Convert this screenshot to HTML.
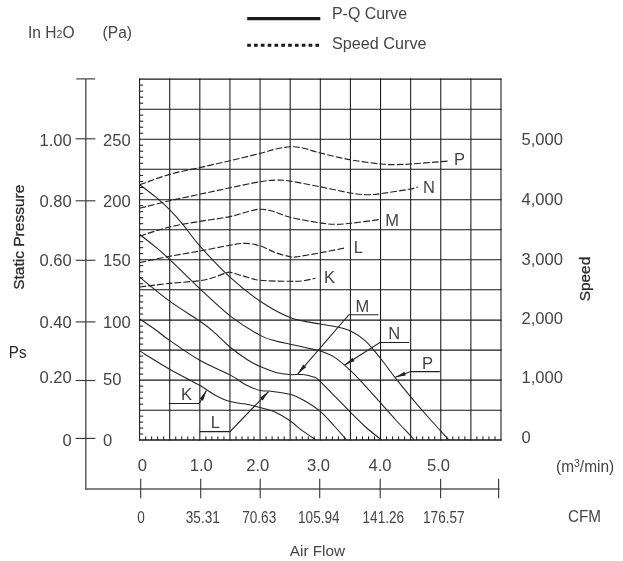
<!DOCTYPE html>
<html><head><meta charset="utf-8"><title>P-Q Curve</title>
<style>
html,body{margin:0;padding:0;background:#fff;}
body{width:623px;height:561px;overflow:hidden;font-family:"Liberation Sans",sans-serif;}
svg{display:block;will-change:transform;}
</style></head><body>
<svg width="623" height="561" viewBox="0 0 623 561">
<g stroke="#161616" stroke-width="1.05" fill="none">
<line x1="139.6" y1="78.5" x2="139.6" y2="440.6"/>
<line x1="169.72" y1="78.5" x2="169.72" y2="440.6"/>
<line x1="199.83" y1="78.5" x2="199.83" y2="440.6"/>
<line x1="229.95" y1="78.5" x2="229.95" y2="440.6"/>
<line x1="260.07" y1="78.5" x2="260.07" y2="440.6"/>
<line x1="290.18" y1="78.5" x2="290.18" y2="440.6"/>
<line x1="320.3" y1="78.5" x2="320.3" y2="440.6"/>
<line x1="350.42" y1="78.5" x2="350.42" y2="440.6"/>
<line x1="380.53" y1="78.5" x2="380.53" y2="440.6"/>
<line x1="410.65" y1="78.5" x2="410.65" y2="440.6"/>
<line x1="440.77" y1="78.5" x2="440.77" y2="440.6"/>
<line x1="470.88" y1="78.5" x2="470.88" y2="440.6"/>
<line x1="501" y1="78.5" x2="501" y2="440.6"/>
<line x1="139" y1="79.1" x2="501.6" y2="79.1"/>
<line x1="139" y1="109.2" x2="501.6" y2="109.2"/>
<line x1="139" y1="139.2" x2="501.6" y2="139.2"/>
<line x1="139" y1="169.3" x2="501.6" y2="169.3"/>
<line x1="139" y1="199.7" x2="501.6" y2="199.7"/>
<line x1="139" y1="229.7" x2="501.6" y2="229.7"/>
<line x1="139" y1="259.7" x2="501.6" y2="259.7"/>
<line x1="139" y1="289.8" x2="501.6" y2="289.8"/>
<line x1="139" y1="320.1" x2="501.6" y2="320.1"/>
<line x1="139" y1="350.1" x2="501.6" y2="350.1"/>
<line x1="139" y1="380.1" x2="501.6" y2="380.1"/>
<line x1="139" y1="410.2" x2="501.6" y2="410.2"/>
<line x1="139" y1="440" x2="501.6" y2="440" stroke-width="1.45"/>
</g>
<g stroke="#161616" stroke-width="1" fill="none">
<line x1="139.6" y1="85.12" x2="143.2" y2="85.12"/>
<line x1="139.6" y1="91.14" x2="143.2" y2="91.14"/>
<line x1="139.6" y1="97.16" x2="143.2" y2="97.16"/>
<line x1="139.6" y1="103.18" x2="143.2" y2="103.18"/>
<line x1="139.6" y1="115.2" x2="143.2" y2="115.2"/>
<line x1="139.6" y1="121.2" x2="143.2" y2="121.2"/>
<line x1="139.6" y1="127.2" x2="143.2" y2="127.2"/>
<line x1="139.6" y1="133.2" x2="143.2" y2="133.2"/>
<line x1="139.6" y1="145.22" x2="143.2" y2="145.22"/>
<line x1="139.6" y1="151.24" x2="143.2" y2="151.24"/>
<line x1="139.6" y1="157.26" x2="143.2" y2="157.26"/>
<line x1="139.6" y1="163.28" x2="143.2" y2="163.28"/>
<line x1="139.6" y1="175.38" x2="143.2" y2="175.38"/>
<line x1="139.6" y1="181.46" x2="143.2" y2="181.46"/>
<line x1="139.6" y1="187.54" x2="143.2" y2="187.54"/>
<line x1="139.6" y1="193.62" x2="143.2" y2="193.62"/>
<line x1="139.6" y1="205.7" x2="143.2" y2="205.7"/>
<line x1="139.6" y1="211.7" x2="143.2" y2="211.7"/>
<line x1="139.6" y1="217.7" x2="143.2" y2="217.7"/>
<line x1="139.6" y1="223.7" x2="143.2" y2="223.7"/>
<line x1="139.6" y1="235.7" x2="143.2" y2="235.7"/>
<line x1="139.6" y1="241.7" x2="143.2" y2="241.7"/>
<line x1="139.6" y1="247.7" x2="143.2" y2="247.7"/>
<line x1="139.6" y1="253.7" x2="143.2" y2="253.7"/>
<line x1="139.6" y1="265.72" x2="143.2" y2="265.72"/>
<line x1="139.6" y1="271.74" x2="143.2" y2="271.74"/>
<line x1="139.6" y1="277.76" x2="143.2" y2="277.76"/>
<line x1="139.6" y1="283.78" x2="143.2" y2="283.78"/>
<line x1="139.6" y1="295.86" x2="143.2" y2="295.86"/>
<line x1="139.6" y1="301.92" x2="143.2" y2="301.92"/>
<line x1="139.6" y1="307.98" x2="143.2" y2="307.98"/>
<line x1="139.6" y1="314.04" x2="143.2" y2="314.04"/>
<line x1="139.6" y1="326.1" x2="143.2" y2="326.1"/>
<line x1="139.6" y1="332.1" x2="143.2" y2="332.1"/>
<line x1="139.6" y1="338.1" x2="143.2" y2="338.1"/>
<line x1="139.6" y1="344.1" x2="143.2" y2="344.1"/>
<line x1="139.6" y1="356.1" x2="143.2" y2="356.1"/>
<line x1="139.6" y1="362.1" x2="143.2" y2="362.1"/>
<line x1="139.6" y1="368.1" x2="143.2" y2="368.1"/>
<line x1="139.6" y1="374.1" x2="143.2" y2="374.1"/>
<line x1="139.6" y1="386.12" x2="143.2" y2="386.12"/>
<line x1="139.6" y1="392.14" x2="143.2" y2="392.14"/>
<line x1="139.6" y1="398.16" x2="143.2" y2="398.16"/>
<line x1="139.6" y1="404.18" x2="143.2" y2="404.18"/>
<line x1="139.6" y1="416.16" x2="143.2" y2="416.16"/>
<line x1="139.6" y1="422.12" x2="143.2" y2="422.12"/>
<line x1="139.6" y1="428.08" x2="143.2" y2="428.08"/>
<line x1="139.6" y1="434.04" x2="143.2" y2="434.04"/>
<line x1="145.62" y1="440" x2="145.62" y2="436.4"/>
<line x1="151.65" y1="440" x2="151.65" y2="436.4"/>
<line x1="157.67" y1="440" x2="157.67" y2="436.4"/>
<line x1="163.69" y1="440" x2="163.69" y2="436.4"/>
<line x1="175.74" y1="440" x2="175.74" y2="436.4"/>
<line x1="181.76" y1="440" x2="181.76" y2="436.4"/>
<line x1="187.79" y1="440" x2="187.79" y2="436.4"/>
<line x1="193.81" y1="440" x2="193.81" y2="436.4"/>
<line x1="205.86" y1="440" x2="205.86" y2="436.4"/>
<line x1="211.88" y1="440" x2="211.88" y2="436.4"/>
<line x1="217.9" y1="440" x2="217.9" y2="436.4"/>
<line x1="223.93" y1="440" x2="223.93" y2="436.4"/>
<line x1="235.97" y1="440" x2="235.97" y2="436.4"/>
<line x1="242" y1="440" x2="242" y2="436.4"/>
<line x1="248.02" y1="440" x2="248.02" y2="436.4"/>
<line x1="254.04" y1="440" x2="254.04" y2="436.4"/>
<line x1="266.09" y1="440" x2="266.09" y2="436.4"/>
<line x1="272.11" y1="440" x2="272.11" y2="436.4"/>
<line x1="278.14" y1="440" x2="278.14" y2="436.4"/>
<line x1="284.16" y1="440" x2="284.16" y2="436.4"/>
<line x1="296.21" y1="440" x2="296.21" y2="436.4"/>
<line x1="302.23" y1="440" x2="302.23" y2="436.4"/>
<line x1="308.25" y1="440" x2="308.25" y2="436.4"/>
<line x1="314.28" y1="440" x2="314.28" y2="436.4"/>
<line x1="326.32" y1="440" x2="326.32" y2="436.4"/>
<line x1="332.35" y1="440" x2="332.35" y2="436.4"/>
<line x1="338.37" y1="440" x2="338.37" y2="436.4"/>
<line x1="344.39" y1="440" x2="344.39" y2="436.4"/>
<line x1="356.44" y1="440" x2="356.44" y2="436.4"/>
<line x1="362.46" y1="440" x2="362.46" y2="436.4"/>
<line x1="368.49" y1="440" x2="368.49" y2="436.4"/>
<line x1="374.51" y1="440" x2="374.51" y2="436.4"/>
<line x1="386.56" y1="440" x2="386.56" y2="436.4"/>
<line x1="392.58" y1="440" x2="392.58" y2="436.4"/>
<line x1="398.6" y1="440" x2="398.6" y2="436.4"/>
<line x1="404.63" y1="440" x2="404.63" y2="436.4"/>
<line x1="416.67" y1="440" x2="416.67" y2="436.4"/>
<line x1="422.7" y1="440" x2="422.7" y2="436.4"/>
<line x1="428.72" y1="440" x2="428.72" y2="436.4"/>
<line x1="434.74" y1="440" x2="434.74" y2="436.4"/>
<line x1="446.79" y1="440" x2="446.79" y2="436.4"/>
<line x1="452.81" y1="440" x2="452.81" y2="436.4"/>
<line x1="458.84" y1="440" x2="458.84" y2="436.4"/>
<line x1="464.86" y1="440" x2="464.86" y2="436.4"/>
<line x1="476.91" y1="440" x2="476.91" y2="436.4"/>
<line x1="482.93" y1="440" x2="482.93" y2="436.4"/>
<line x1="488.95" y1="440" x2="488.95" y2="436.4"/>
<line x1="494.98" y1="440" x2="494.98" y2="436.4"/>
</g>
<g stroke="#5a5a5a" stroke-width="1.5" fill="none">
<line x1="85.8" y1="78.9" x2="85.8" y2="489.7"/>
<line x1="85.1" y1="489" x2="499.6" y2="489"/>
</g>
<g stroke="#3c3c3c" stroke-width="1.15" fill="none">
<line x1="76.3" y1="78.9" x2="95.2" y2="78.9"/>
<line x1="75.6" y1="138.8" x2="95.4" y2="138.8"/>
<line x1="75.6" y1="200.8" x2="95.4" y2="200.8"/>
<line x1="75.6" y1="260.3" x2="95.4" y2="260.3"/>
<line x1="75.6" y1="321.9" x2="95.4" y2="321.9"/>
<line x1="75.6" y1="380.5" x2="95.4" y2="380.5"/>
<line x1="75.6" y1="438.4" x2="95.4" y2="438.4"/>
<line x1="140.7" y1="478.7" x2="140.7" y2="498.3"/>
<line x1="200.7" y1="478.7" x2="200.7" y2="498.3"/>
<line x1="260.2" y1="478.7" x2="260.2" y2="498.3"/>
<line x1="319.7" y1="478.7" x2="319.7" y2="498.3"/>
<line x1="380.2" y1="478.7" x2="380.2" y2="498.3"/>
<line x1="440.6" y1="478.7" x2="440.6" y2="498.3"/>
<line x1="498.6" y1="478.7" x2="498.6" y2="498.3"/>
</g>
<g stroke="#222" stroke-width="1.15" fill="none" stroke-dasharray="6.7 2.1">
<path d="M139.6,184.8 C144.6,183.07 159.58,177.27 169.6,174.4 C179.62,171.53 189.63,169.88 199.7,167.6 C209.77,165.32 219.92,163.07 230,160.7 C240.08,158.33 252.53,155.35 260.2,153.4 C267.87,151.45 270.78,150.12 276,149 C281.22,147.88 286.67,146.78 291.5,146.7 C296.33,146.62 300.2,147.45 305,148.5 C309.8,149.55 312.7,151.12 320.3,153 C327.9,154.88 340.48,157.97 350.6,159.8 C360.72,161.63 373.45,163.2 381,164 C388.55,164.8 390.98,164.6 395.9,164.6 C400.82,164.6 403.07,164.48 410.5,164 C417.93,163.52 434.08,162.22 440.5,161.7 C446.92,161.18 447.58,161.03 449,160.9"/>
<path d="M139.6,208.3 C144.6,207.05 159.58,203.13 169.6,200.8 C179.62,198.47 189.63,196.47 199.7,194.3 C209.77,192.13 219.92,189.9 230,187.8 C240.08,185.7 252.55,182.98 260.2,181.7 C267.85,180.42 270.93,180.2 275.9,180.1 C280.87,180 282.6,179.98 290,181.1 C297.4,182.22 310.2,184.82 320.3,186.8 C330.4,188.78 342.98,191.68 350.6,193 C358.22,194.32 360.93,194.6 366,194.7 C371.07,194.8 373.58,194.55 381,193.6 C388.42,192.65 404.37,190.13 410.5,189 C416.63,187.87 416.58,187.17 417.8,186.8"/>
<path d="M139.6,236 C144.6,234.5 159.58,229.43 169.6,227 C179.62,224.57 189.63,223.13 199.7,221.4 C209.77,219.67 221.62,218.33 230,216.6 C238.38,214.87 244.83,212.23 250,211 C255.17,209.77 257.33,209.2 261,209.2 C264.67,209.2 267.17,209.67 272,211 C276.83,212.33 281.95,215.22 290,217.2 C298.05,219.18 312.8,221.72 320.3,222.9 C327.8,224.08 329.95,224.23 335,224.3 C340.05,224.37 343.07,224.1 350.6,223.3 C358.13,222.5 375.27,220.13 380.2,219.5"/>
<path d="M139.6,262.6 C144.6,261.55 159.58,258.22 169.6,256.3 C179.62,254.38 189.63,252.95 199.7,251.1 C209.77,249.25 222.35,246.48 230,245.2 C237.65,243.92 240.57,243.28 245.6,243.4 C250.63,243.52 255.15,244.33 260.2,245.9 C265.25,247.47 270.93,251 275.9,252.8 C280.87,254.6 286.65,256.02 290,256.7 C293.35,257.38 290.95,257.55 296,256.9 C301.05,256.25 312.18,254.28 320.3,252.8 C328.42,251.32 340.63,248.8 344.7,248"/>
<path d="M139.6,287 C144.6,286.4 159.58,284.45 169.6,283.4 C179.62,282.35 192.25,281.73 199.7,280.7 C207.15,279.67 209.78,278.55 214.3,277.2 C218.82,275.85 223.85,273.37 226.8,272.6 C229.75,271.83 229.22,272.02 232,272.6 C234.78,273.18 238.8,274.82 243.5,276.1 C248.2,277.38 252.45,279.43 260.2,280.3 C267.95,281.17 282.87,281.2 290,281.3 C297.13,281.4 298.75,281.42 303,280.9 C307.25,280.38 313.42,278.65 315.5,278.2"/>
</g>
<g stroke="#222" stroke-width="1.05" fill="none">
<path d="M139.6,184.6 C142.32,186.7 150.9,193.02 155.9,197.2 C160.9,201.38 165.08,205.13 169.6,209.7 C174.12,214.27 177.98,218.58 183,224.6 C188.02,230.62 191.87,237.03 199.7,245.8 C207.53,254.57 219.92,267.97 230,277.2 C240.08,286.43 250.2,294.5 260.2,301.2 C270.2,307.9 279.98,313.58 290,317.4 C300.02,321.22 312.8,322.58 320.3,324.1 C327.8,325.62 329.95,325.35 335,326.5 C340.05,327.65 345.5,328.55 350.6,331 C355.7,333.45 360.53,336.53 365.6,341.2 C370.67,345.87 376.05,352.88 381,359 C385.95,365.12 390.35,371.6 395.3,377.9 C400.25,384.2 405.53,390.62 410.7,396.8 C415.87,402.98 421.25,409.25 426.3,415 C431.35,420.75 437.22,427.13 441,431.3 C444.78,435.47 447.67,438.55 449,440"/>
<path d="M139.6,234.4 C142.13,236.4 149.8,242.23 154.8,246.4 C159.8,250.57 162.12,252.37 169.6,259.4 C177.08,266.43 189.63,279.2 199.7,288.6 C209.77,298 219.92,308 230,315.8 C240.08,323.6 252.55,331.22 260.2,335.4 C267.85,339.58 270.93,339.43 275.9,340.9 C280.87,342.37 285.48,343.17 290,344.2 C294.52,345.23 297.95,345.98 303,347.1 C308.05,348.22 315.08,349.23 320.3,350.9 C325.52,352.57 329.25,353.8 334.3,357.1 C339.35,360.4 345.38,365.83 350.6,370.7 C355.82,375.57 360.53,380.87 365.6,386.3 C370.67,391.73 375.97,397.68 381,403.3 C386.03,408.92 390.85,414.57 395.8,420 C400.75,425.43 407.67,432.63 410.7,435.9 C413.73,439.17 413.45,438.98 414,439.6"/>
<path d="M139.6,277.2 C144.6,281.2 159.58,293.9 169.6,301.2 C179.62,308.5 192.45,315.98 199.7,321 C206.95,326.02 207.97,326.88 213.1,331.3 C218.23,335.72 224.72,342.72 230.5,347.5 C236.28,352.28 242.85,356.82 247.8,360 C252.75,363.18 255.52,364.53 260.2,366.6 C264.88,368.67 270.93,371.07 275.9,372.4 C280.87,373.73 285.48,374.25 290,374.6 C294.52,374.95 299.1,374.12 303,374.5 C306.9,374.88 310.52,375.72 313.4,376.9 C316.28,378.08 314.1,375.68 320.3,381.6 C326.5,387.52 343.05,404.83 350.6,412.4 C358.15,419.97 360.53,422.47 365.6,427 C370.67,431.53 378.43,437.5 381,439.6"/>
<path d="M139.6,318.9 C142.32,320.75 150.9,326.42 155.9,330 C160.9,333.58 162.3,335.35 169.6,340.4 C176.9,345.45 189.63,354.55 199.7,360.3 C209.77,366.05 222.35,370.83 230,374.9 C237.65,378.97 240.57,382.1 245.6,384.7 C250.63,387.3 256.2,389.43 260.2,390.5 C264.2,391.57 264.63,390.47 269.6,391.1 C274.57,391.73 284.1,392.65 290,394.3 C295.9,395.95 299.95,398.15 305,401 C310.05,403.85 315.42,407.23 320.3,411.4 C325.18,415.57 329.98,421.3 334.3,426 C338.62,430.7 344.22,437.33 346.2,439.6"/>
<path d="M139.6,350.9 C144.6,353.95 159.58,363.47 169.6,369.2 C179.62,374.93 192.25,381.05 199.7,385.3 C207.15,389.55 209.25,391.98 214.3,394.7 C219.35,397.42 224.78,400.05 230,401.6 C235.22,403.15 240.57,403 245.6,404 C250.63,405 255.15,406.2 260.2,407.6 C265.25,409 270.93,410.2 275.9,412.4 C280.87,414.6 285.48,417.67 290,420.8 C294.52,423.93 298.75,428.07 303,431.2 C307.25,434.33 313.42,438.2 315.5,439.6"/>
</g>
<g stroke="#222" stroke-width="1.1" fill="none">
<polyline points="168.8,403.5 199.3,403.5 206.4,390.5"/>
<polyline points="199.7,431.6 230,431.6 268.6,391.6"/>
<polyline points="378.5,314.7 348.9,314.7 297.8,373.8"/>
<polyline points="409.2,342.5 379.9,342.5 344.7,365"/>
<polyline points="439.8,371.6 410.7,371.6 395.3,377.2"/>
</g>
<polygon points="206.4,390.5 203.08,400.65 199.66,398.78" fill="#222" stroke="none"/>
<polygon points="268.6,391.6 262.71,400.51 259.91,397.8" fill="#222" stroke="none"/>
<polygon points="297.8,373.8 303.19,364.58 306.14,367.13" fill="#222" stroke="none"/>
<polygon points="344.7,365 352.5,357.7 354.6,360.99" fill="#222" stroke="none"/>
<polygon points="395.3,377.2 404.5,371.78 405.83,375.44" fill="#222" stroke="none"/>
<line x1="247.2" y1="18.6" x2="320.3" y2="18.6" stroke="#1a1a1a" stroke-width="3.2"/>
<line x1="247.2" y1="45.3" x2="320" y2="45.3" stroke="#1a1a1a" stroke-width="3.0" stroke-dasharray="3.7 3.12"/>
<g fill="#444" font-family="'Liberation Sans', sans-serif">
<text x="332" y="18.6" font-size="15.9" text-anchor="start">P-Q Curve</text>
<text x="332" y="48.6" font-size="16.2" text-anchor="start">Speed Curve</text>
<text transform="translate(28,38.2) scale(0.915,1)" font-size="17">In H<tspan font-size="11.5">2</tspan>O</text>
<text transform="translate(102.6,38.2) scale(0.915,1)" font-size="17">(Pa)</text>
<text x="71.8" y="145.8" font-size="16.6" text-anchor="end">1.00</text>
<text x="71.8" y="206.5" font-size="16.6" text-anchor="end">0.80</text>
<text x="71.8" y="266" font-size="16.6" text-anchor="end">0.60</text>
<text x="71.8" y="327.5" font-size="16.6" text-anchor="end">0.40</text>
<text x="71.8" y="383" font-size="16.6" text-anchor="end">0.20</text>
<text x="71.8" y="445.9" font-size="16.6" text-anchor="end">0</text>
<text x="103" y="145.8" font-size="16.6" text-anchor="start">250</text>
<text x="103" y="206.5" font-size="16.6" text-anchor="start">200</text>
<text x="103" y="266" font-size="16.6" text-anchor="start">150</text>
<text x="103" y="327.7" font-size="16.6" text-anchor="start">100</text>
<text x="103" y="385" font-size="16.6" text-anchor="start">50</text>
<text x="103" y="445.6" font-size="16.6" text-anchor="start">0</text>
<text x="521.5" y="145.2" font-size="16.6" text-anchor="start">5,000</text>
<text x="521.5" y="204.7" font-size="16.6" text-anchor="start">4,000</text>
<text x="521.5" y="265.2" font-size="16.6" text-anchor="start">3,000</text>
<text x="521.5" y="324" font-size="16.6" text-anchor="start">2,000</text>
<text x="521.5" y="383.3" font-size="16.6" text-anchor="start">1,000</text>
<text x="521.5" y="442.9" font-size="16.6" text-anchor="start">0</text>
<text x="142.3" y="470.7" font-size="16.6" text-anchor="middle">0</text>
<text x="201.3" y="470.7" font-size="16.6" text-anchor="middle">1.0</text>
<text x="257.7" y="470.7" font-size="16.6" text-anchor="middle">2.0</text>
<text x="318.5" y="470.7" font-size="16.6" text-anchor="middle">3.0</text>
<text x="380" y="470.7" font-size="16.6" text-anchor="middle">4.0</text>
<text x="438.5" y="470.7" font-size="16.6" text-anchor="middle">5.0</text>
<text transform="translate(141,522.6) scale(0.85,1.08)" font-size="16" text-anchor="middle">0</text>
<text transform="translate(202.8,522.6) scale(0.85,1.08)" font-size="16" text-anchor="middle">35.31</text>
<text transform="translate(259.2,522.6) scale(0.85,1.08)" font-size="16" text-anchor="middle">70.63</text>
<text transform="translate(318.8,522.6) scale(0.85,1.08)" font-size="16" text-anchor="middle">105.94</text>
<text transform="translate(383.3,522.6) scale(0.85,1.08)" font-size="16" text-anchor="middle">141.26</text>
<text transform="translate(443.8,522.6) scale(0.85,1.08)" font-size="16" text-anchor="middle">176.57</text>
<text transform="translate(556,472.4) scale(0.95,1)" font-size="16.3">(m<tspan font-size="11" dy="-5.2">3</tspan><tspan dy="5.2">/min)</tspan></text>
<text transform="translate(568,521.5) scale(0.92,1)" font-size="16.6">CFM</text>
<text x="289.8" y="556.3" font-size="15.3" text-anchor="start">Air Flow</text>
<text transform="translate(8.8,357.7) scale(0.96,1)" font-size="15.8" fill="#262626">Ps</text>
<text transform="translate(23.6,289.8) rotate(-90)" font-size="15.5" fill="#2a2a2a" stroke="#2a2a2a" stroke-width="0.3">Static Pressure</text>
<text transform="translate(589.8,301.3) rotate(-90)" font-size="15.4" fill="#2a2a2a" stroke="#2a2a2a" stroke-width="0.3">Speed</text>
<text x="454" y="164.9" font-size="16.5" text-anchor="start">P</text>
<text x="423" y="193.1" font-size="16.5" text-anchor="start">N</text>
<text x="385.3" y="225.6" font-size="16.5" text-anchor="start">M</text>
<text x="353.8" y="253.2" font-size="16.5" text-anchor="start">L</text>
<text x="324" y="282.6" font-size="16.5" text-anchor="start">K</text>
<text x="355.4" y="312" font-size="16.5" text-anchor="start">M</text>
<text x="388.2" y="338.8" font-size="16.5" text-anchor="start">N</text>
<text x="422" y="368.7" font-size="16.5" text-anchor="start">P</text>
<text x="181" y="399.9" font-size="16.5" text-anchor="start">K</text>
<text x="210.8" y="428" font-size="16.5" text-anchor="start">L</text>
</g>
</svg>
</body></html>
